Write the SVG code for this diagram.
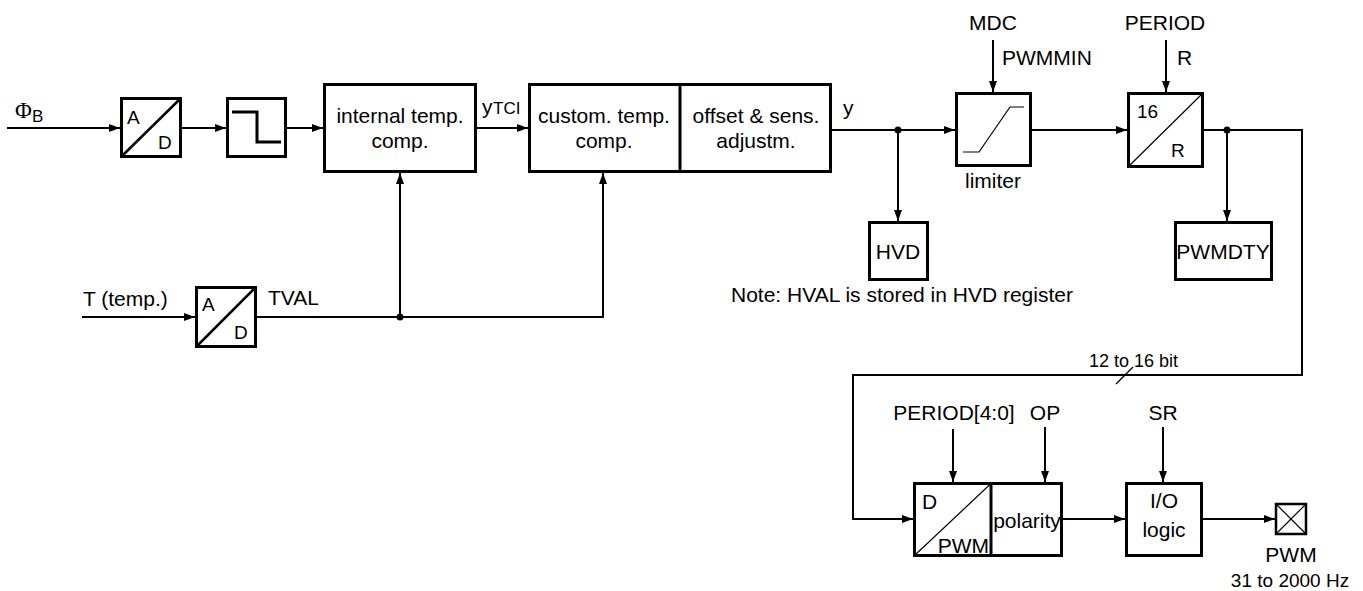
<svg xmlns="http://www.w3.org/2000/svg" width="1363" height="591" viewBox="0 0 1363 591">
<style>
text{font-family:"Liberation Sans",Arial,sans-serif;font-size:21px;fill:#000}
.c{text-anchor:middle}
.e{text-anchor:end}
.s{font-size:17px}
.ad{font-size:19px}
.sm{font-size:18px}
.box{fill:#fff;stroke:#000;stroke-width:3}
.thin{fill:none;stroke:#000;stroke-width:1.2}
.diag{fill:none;stroke:#000;stroke-width:2.5}
.w{fill:none;stroke:#000;stroke-width:2}
.a{marker-end:url(#ah)}
.dot{fill:#000}
</style>
<defs>
<marker id="ah" markerUnits="userSpaceOnUse" markerWidth="11" markerHeight="8" refX="11" refY="4" orient="auto">
<path d="M0,0 L11,4 L0,8 z" fill="#000"/>
</marker>
</defs>
<g id="connectors">
<path class="w a" d="M7,128 H120"/>
<path class="w a" d="M182,128 H226"/>
<path class="w a" d="M287,128 H323"/>
<path class="w a" d="M477,128 H528"/>
<path class="w a" d="M832,130 H955"/>
<path class="w a" d="M898,130 V221"/>
<circle class="dot" cx="898" cy="130" r="3.5"/>
<path class="w a" d="M1032,130 H1127"/>
<path class="w a" d="M993,40 V92"/>
<path class="w a" d="M1166,40 V92"/>
<path class="w a" d="M1204,130 H1302 V375 H853 V519 H913"/>
<path class="w a" d="M1227,130 V221"/>
<circle class="dot" cx="1227" cy="130" r="3.5"/>
<path class="thin" d="M1116,384 L1133,367"/>
<path class="w a" d="M82,317 H195"/>
<path class="w a" d="M257,317 H603 V173"/>
<path class="w a" d="M400,317 V173"/>
<circle class="dot" cx="400" cy="317" r="3.5"/>
<path class="w a" d="M953,429 V482"/>
<path class="w a" d="M1045,427 V482"/>
<path class="w a" d="M1163,427 V482"/>
<path class="w a" d="M1063,519 H1125"/>
<path class="w a" d="M1203,519 H1275"/>
</g>
<g id="phiB">
<text x="15" y="118" style="font-family:'Liberation Serif',serif;font-size:23px">Φ</text>
<text x="32" y="122" class="s">B</text>
</g>
<g id="ad1">
<rect class="box" x="121.5" y="98.5" width="59" height="58"/>
<path class="diag" d="M121.5,156.5 L180.5,98.5"/>
<text x="127" y="124" class="ad">A</text>
<text x="158" y="149" class="ad">D</text>
</g>
<g id="step">
<rect class="box" x="227.5" y="98.5" width="58" height="58"/>
<path fill="none" stroke="#000" stroke-width="3" d="M232,112 H257 V142 H281"/>
</g>
<g id="internal">
<rect class="box" x="324.5" y="84.5" width="151" height="87"/>
<text x="400" y="123" class="c">internal temp.</text>
<text x="400" y="148" class="c">comp.</text>
</g>
<text x="482" y="114">y</text><text x="493" y="114" class="s">TCI</text>
<g id="custom">
<rect class="box" x="529.5" y="84.5" width="301" height="87"/>
<path fill="none" stroke="#000" stroke-width="3" d="M680,84.5 V171.5"/>
<text x="604" y="123" class="c">custom. temp.</text>
<text x="604" y="148" class="c">comp.</text>
<text x="756" y="123" class="c">offset &amp; sens.</text>
<text x="756" y="148" class="c">adjustm.</text>
</g>
<text x="843" y="115">y</text>
<g id="limiter">
<rect class="box" x="956.5" y="93.5" width="74" height="72"/>
<path class="thin" d="M963,152 H979 L1010,107 H1024"/>
<text x="993" y="30" class="c">MDC</text>
<text x="1002" y="65">PWMMIN</text>
<text x="993" y="188" class="c">limiter</text>
</g>
<g id="div16r">
<rect class="box" x="1128.5" y="93.5" width="74" height="73"/>
<path class="thin" d="M1128.5,166.5 L1202.5,93.5"/>
<text x="1137" y="118" class="ad">16</text>
<text x="1171" y="157" class="ad">R</text>
<text x="1165" y="30" class="c">PERIOD</text>
<text x="1177" y="65">R</text>
</g>
<g id="hvd">
<rect class="box" x="869.5" y="222.5" width="58" height="57"/>
<text x="898" y="259" class="c">HVD</text>
</g>
<text x="731" y="302">Note: HVAL is stored in HVD register</text>
<g id="pwmdty">
<rect class="box" x="1175.5" y="222.5" width="96" height="57"/>
<text x="1223" y="259" class="c">PWMDTY</text>
</g>
<g id="ad2">
<text x="83" y="306">T (temp.)</text>
<rect class="box" x="196.5" y="287.5" width="59" height="59"/>
<path class="diag" d="M196.5,346.5 L255.5,287.5"/>
<text x="202" y="311" class="ad">A</text>
<text x="234" y="339" class="ad">D</text>
<text x="268" y="305">TVAL</text>
</g>
<text x="1089" y="367" class="sm">12 to 16 bit</text>
<g id="dpwm">
<rect class="box" x="914.5" y="483.5" width="147" height="72"/>
<path fill="none" stroke="#000" stroke-width="3" d="M991,483.5 V555.5"/>
<path class="thin" d="M914.5,555.5 L991,483.5"/>
<text x="922" y="509">D</text>
<text x="989" y="553" class="e">PWM</text>
<text x="1027" y="528" class="c">polarity</text>
<text x="954" y="420" class="c">PERIOD[4:0]</text>
<text x="1045" y="420" class="c">OP</text>
</g>
<g id="io">
<rect class="box" x="1126.5" y="483.5" width="75" height="72"/>
<text x="1164" y="508" class="c">I/O</text>
<text x="1164" y="537" class="c">logic</text>
<text x="1163" y="420" class="c">SR</text>
</g>
<g id="pin">
<rect fill="#fff" stroke="#000" stroke-width="2.5" x="1276" y="504" width="30" height="30"/>
<path class="thin" d="M1276,504 L1306,534 M1306,504 L1276,534"/>
<text x="1291" y="562" class="c">PWM</text>
<text x="1290" y="587" class="c" style="font-size:19px">31 to 2000 Hz</text>
</g>
</svg>
